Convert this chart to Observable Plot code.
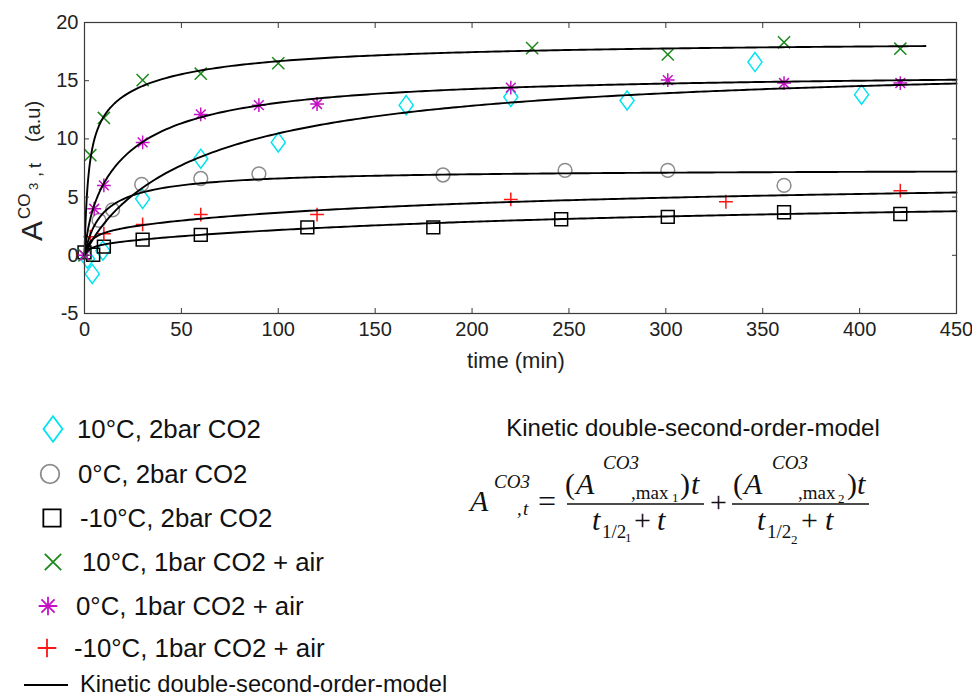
<!DOCTYPE html>
<html><head><meta charset="utf-8">
<script src="https://cdn.jsdelivr.net/npm/d3@7"></script>
<script src="https://cdn.jsdelivr.net/npm/@observablehq/plot@0.6"></script>
<style>
body{margin:0;background:#fff;}
#chart{width:972px;height:697px;overflow:hidden;}
</style></head><body><div id="chart"></div>
<script>
// ---------- data ----------
const seriesNames = ["10°C, 2bar CO2", "0°C, 2bar CO2", "-10°C, 2bar CO2",
  "10°C, 1bar CO2 + air", "0°C, 1bar CO2 + air", "-10°C, 1bar CO2 + air"];
const seriesColors = ["#00e4f0", "#8c8c8c", "#000000", "#1b8a1b", "#c412c4", "#ff1414"];
const seriesSymbols = ["diamond", "circle", "square", "times", "asterisk", "plus"];

const diamondT = [1.5, 4, 9.5, 30, 60, 100, 166, 220, 280, 346, 401];
const diamondA = [-0.3, -1.6, 0.4, 4.85, 8.3, 9.7, 12.9, 13.6, 13.3, 16.6, 13.8];
const circleT = [7.5, 14.5, 29.5, 60, 90, 185, 248, 301, 361];
const circleA = [3.0, 3.9, 6.1, 6.6, 7.0, 6.9, 7.3, 7.3, 6.0];
const squareT = [0, 4.5, 10, 30, 60, 115, 180, 246, 301, 361, 421];
const squareA = [0.25, 0.05, 0.75, 1.35, 1.75, 2.4, 2.4, 3.1, 3.3, 3.7, 3.55];
const timesT = [0, 3, 10, 30, 60, 100, 231, 301, 361, 421];
const timesA = [0, 8.6, 11.8, 15.05, 15.6, 16.5, 17.8, 17.25, 18.3, 17.75];
const asteriskT = [0, 5, 10, 30, 60, 90, 120, 220, 301, 361, 421];
const asteriskA = [0, 4.0, 6.0, 9.7, 12.1, 12.9, 13.0, 14.4, 15.05, 14.8, 14.8];
const plusT = [3, 10, 30, 60, 120, 220, 331, 421];
const plusA = [1.6, 1.85, 2.65, 3.5, 3.5, 4.8, 4.6, 5.55];

// fitted kinetic double-second-order-model parameters (estimated from the curves)
const modelAmax1 = [1.5, 6.2, 1.0, 13.0, 4.0, 2.2];
const modelHalf1 = [10, 8, 3, 2, 3, 3];
const modelAmax2 = [15.3, 1.2, 4.5, 5.5, 11.8, 4.7];
const modelHalf2 = [68, 40, 275, 40, 28, 209];
const modelEnd = [450, 450, 450, 434, 450, 450];

const xTicks = [0, 50, 100, 150, 200, 250, 300, 350, 400, 450];
const yTicks = [-5, 0, 5, 10, 15, 20];
const xLabel = "time (min)";
const legendModel = "Kinetic double-second-order-model";

// ---------- symbols ----------
function rad(s) { return Math.sqrt(s / Math.PI); }
const symbolDefs = {
  diamond: {draw(c, s) { const r = rad(s); c.moveTo(0, -1.38 * r); c.lineTo(1.02 * r, 0); c.lineTo(0, 1.38 * r); c.lineTo(-1.02 * r, 0); c.closePath(); }},
  circle: {draw(c, s) { const r = rad(s); c.moveTo(r, 0); c.arc(0, 0, r, 0, 2 * Math.PI); }},
  square: {draw(c, s) { const r = rad(s) * 0.93; c.moveTo(-r, -r); c.lineTo(r, -r); c.lineTo(r, r); c.lineTo(-r, r); c.closePath(); }},
  times: {draw(c, s) { const r = rad(s) * 0.88; c.moveTo(-r, -r); c.lineTo(r, r); c.moveTo(r, -r); c.lineTo(-r, r); }},
  asterisk: {draw(c, s) { const r = rad(s) * 1.0; for (let k = 0; k < 4; k++) { const a = k * Math.PI / 4; c.moveTo(-r * Math.cos(a), -r * Math.sin(a)); c.lineTo(r * Math.cos(a), r * Math.sin(a)); } }},
  plus: {draw(c, s) { const r = rad(s) * 1.0; c.moveTo(-r, 0); c.lineTo(r, 0); c.moveTo(0, -r); c.lineTo(0, r); }}
};

const seriesT = [diamondT, circleT, squareT, timesT, asteriskT, plusT];
const seriesA = [diamondA, circleA, squareA, timesA, asteriskA, plusA];

const pointSets = seriesT.map((ts, i) => ts.map((t, j) => ({t, a: seriesA[i][j]})));
const curveSets = modelAmax1.map((_, i) => {
  const pts = [];
  for (let t = 0; t <= modelEnd[i] + 1e-9; t += (t < 20 ? 0.25 : 2)) {
    pts.push({t, a: modelAmax1[i] * t / (modelHalf1[i] + t) + modelAmax2[i] * t / (modelHalf2[i] + t)});
  }
  return pts;
});

const axisColor = "#3a3a3a";
const marks = [];
pointSets.forEach((pts, i) => {
  marks.push(Plot.dot(pts, {x: "t", y: "a", r: 6.9, symbol: symbolDefs[seriesSymbols[i]],
    stroke: seriesColors[i], fill: "none", strokeWidth: 1.5}));
});
curveSets.forEach(pts => {
  marks.push(Plot.line(pts, {x: "t", y: "a", stroke: "#000", strokeWidth: 1.9}));
});
marks.push(Plot.axisX({ticks: xTicks, tickSize: -5, tickPadding: 13, tickFormat: d => String(d), label: null, stroke: axisColor}));
marks.push(Plot.axisX({anchor: "top", ticks: xTicks, tickSize: -5, tickFormat: () => "", label: null, stroke: axisColor}));
marks.push(Plot.axisY({ticks: yTicks, tickSize: -5, tickPadding: 11, tickFormat: d => String(d), label: null, stroke: axisColor}));
marks.push(Plot.axisY({anchor: "right", ticks: yTicks, tickSize: -5, tickFormat: () => "", label: null, stroke: axisColor}));
marks.push(Plot.frame({stroke: axisColor, strokeWidth: 1.2}));

const svgNode = Plot.plot({
  width: 972, height: 697,
  marginTop: 22, marginLeft: 84, marginRight: 16, marginBottom: 384,
  x: {domain: [0, 450]},
  y: {domain: [-5, 20]},
  style: {fontFamily: "'Liberation Sans', Arial, sans-serif", fontSize: "20px", color: "#222", background: "#fff", overflow: "visible"},
  marks
});
document.getElementById("chart").appendChild(svgNode);

const svg = d3.select(svgNode);
const sans = "'Liberation Sans', Arial, sans-serif";
const serif = "'Liberation Serif', 'Times New Roman', serif";

// x axis title
svg.append("text").attr("x", 516).attr("y", 368).attr("text-anchor", "middle")
  .attr("font-family", sans).attr("font-size", 22).attr("fill", "#222").text(xLabel);

// y axis title  A^{CO_3},t (a.u)
const yl = svg.append("g").attr("transform", "translate(42,241) rotate(-90)")
  .attr("font-family", sans).attr("fill", "#222").attr("text-anchor", "start");
yl.append("text").attr("x", 0).attr("y", 0).attr("font-size", 30).text("A");
yl.append("text").attr("x", 22).attr("y", -12).attr("font-size", 17).text("CO");
yl.append("text").attr("x", 51).attr("y", -4).attr("font-size", 13).text("3");
yl.append("text").attr("x", 64).attr("y", -1).attr("font-size", 18).text(",");
yl.append("text").attr("x", 73).attr("y", -1).attr("font-size", 18).text("t");
yl.append("text").attr("x", 99).attr("y", -2).attr("font-size", 20).text("(a.u)");

// legend
const legendRows = [
  {cx: 53, cy: 429, tx: 77, ty: 438},
  {cx: 50, cy: 474, tx: 78, ty: 483},
  {cx: 52, cy: 518, tx: 80, ty: 527},
  {cx: 53, cy: 562, tx: 82, ty: 571},
  {cx: 48, cy: 606, tx: 76, ty: 615},
  {cx: 47, cy: 648, tx: 74, ty: 657}
];
const lg = svg.append("g").attr("text-anchor", "start").attr("font-family", sans);
seriesNames.forEach((name, i) => {
  const row = legendRows[i];
  const r = 9.3;
  lg.append("path")
    .attr("d", d3.symbol(symbolDefs[seriesSymbols[i]], Math.PI * r * r)())
    .attr("transform", `translate(${row.cx},${row.cy})`)
    .attr("fill", "none").attr("stroke", seriesColors[i]).attr("stroke-width", 1.8);
  lg.append("text").attr("x", row.tx).attr("y", row.ty)
    .attr("font-size", 25.8).attr("fill", "#111").text(name);
});
lg.append("line").attr("x1", 24).attr("x2", 68).attr("y1", 685).attr("y2", 685)
  .attr("stroke", "#000").attr("stroke-width", 2);
lg.append("text").attr("x", 80).attr("y", 692)
  .attr("font-size", 23.6).attr("fill", "#111").text(legendModel);

// equation block
svg.append("text").attr("x", 693).attr("y", 436).attr("text-anchor", "middle")
  .attr("font-family", sans).attr("font-size", 24).attr("fill", "#111").text(legendModel);

const eq = svg.append("g").attr("font-family", serif).attr("fill", "#111").attr("text-anchor", "start");
function t(x, y, size, str, italic) {
  eq.append("text").attr("x", x).attr("y", y).attr("font-size", size)
    .attr("font-style", italic ? "italic" : "normal").text(str);
}
// left-hand side
t(470, 511, 30, "A", true);
t(494, 488, 19, "CO3", true);
t(517, 515, 19, ",", true);
t(523, 515, 19, "t", true);
t(538, 512, 32, "=", false);
// fraction 1
eq.append("line").attr("x1", 567).attr("x2", 704).attr("y1", 504).attr("y2", 504).attr("stroke", "#111").attr("stroke-width", 1.4);
t(565, 494, 30, "(", false);
t(576, 494, 30, "A", true);
t(603, 469, 19, "CO3", true);
t(631, 499, 19, ",max", false);
t(672, 502, 13, "1", false);
t(680, 494, 30, ")", false);
t(691, 494, 30, "t", true);
t(592, 530, 30, "t", true);
t(602, 538, 19, "1/2", false);
t(625, 542, 13, "1", false);
t(634, 530, 30, "+", false);
t(657, 530, 30, "t", true);
// plus
t(710, 512, 30, "+", false);
// fraction 2
eq.append("line").attr("x1", 732).attr("x2", 869).attr("y1", 504).attr("y2", 504).attr("stroke", "#111").attr("stroke-width", 1.4);
t(733, 494, 30, "(", false);
t(744, 494, 30, "A", true);
t(772, 469, 19, "CO3", true);
t(798, 499, 19, ",max", false);
t(838, 503, 13, "2", false);
t(847, 494, 30, ")", false);
t(857, 494, 30, "t", true);
t(757, 530, 30, "t", true);
t(767, 538, 19, "1/2", false);
t(791, 544, 13, "2", false);
t(801, 530, 30, "+", false);
t(825, 530, 30, "t", true);
</script></body></html>
